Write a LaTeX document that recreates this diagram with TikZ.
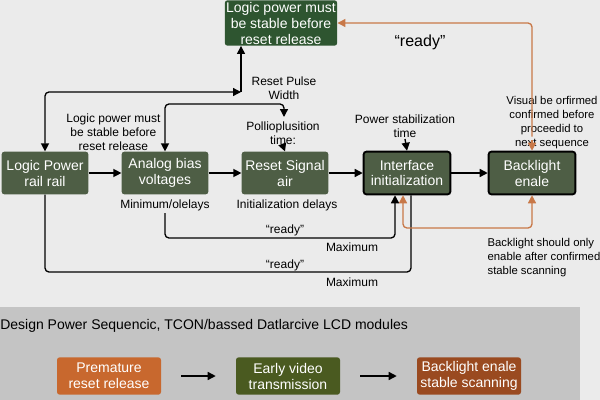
\documentclass[tikz,border=0pt]{standalone}
\usepackage{fontspec}
\setmainfont{Liberation Sans}
\usetikzlibrary{arrows.meta}
\definecolor{bg}{HTML}{EBEBEB}
\definecolor{boxg}{HTML}{4E5E45}
\definecolor{topg}{HTML}{2E5530}
\definecolor{orl}{HTML}{C87848}
\definecolor{panel}{HTML}{C4C4C4}
\definecolor{pre}{HTML}{C8682E}
\definecolor{early}{HTML}{4A5A20}
\definecolor{bre}{HTML}{9A4A20}
\begin{document}
\begin{tikzpicture}[x=0.75pt,y=-0.75pt,
  box/.style={fill=boxg,text=white,rounded corners=2pt,minimum width=65pt,minimum height=32pt,align=center,font=\fontsize{10.5}{12}\selectfont,inner sep=1pt},
  bbox/.style={box,draw=black,line width=1.4pt},
  lab/.style={align=center,font=\fontsize{9}{10.5}\selectfont,inner sep=1pt},
  ar/.style={line width=1pt,-{Triangle[length=6pt,width=6pt]}},
  ln/.style={line width=1pt,rounded corners=3pt},
  oar/.style={draw=orl,line width=1pt,rounded corners=3pt},
  bot/.style={text=white,rounded corners=2pt,minimum width=78pt,minimum height=28pt,align=center,font=\fontsize{10.5}{12}\selectfont,inner sep=1pt}]
\fill[bg] (0,0) rectangle (600,400);
\useasboundingbox (0,0) rectangle (600,400);
% nodes
\node[box,fill=topg,minimum width=77pt,minimum height=34pt] (top) at (281,23) {Logic power must\\be stable before\\reset release};
\node[box] (lp) at (45,173) {Logic Power\\rail  rail};
\node[box] (ab) at (165,173) {Analog bias\\voltages};
\node[box] (rs) at (285,173) {Reset Signal\\air};
\node[bbox] (ii) at (407,173) {Interface\\initialization};
\node[bbox] (be) at (532,173) {Backlight\\enale};
% labels
\node[lab,anchor=east] (l1) at (162,132) {Logic power must\\be stable before\\reset release};
\node[lab] (l2) at (284,88) {Reset Pulse\\Width};
\node[lab] (l3) at (283,133) {Pollioplusition\\time:};
\node[lab] (l4) at (405,126) {Power stabilization\\time};
\node[lab,font=\fontsize{8.5}{10.5}\selectfont] (l5) at (552,123) {Visual be orfirmed\\confirmed before\\proceedid to\\next sequence};
\node[font=\fontsize{12}{14}\selectfont] (rdy) at (420,42) {“ready”};
\node[lab] (m1) at (165,205) {Minimum/olelays};
\node[lab] (m2) at (287,205) {Initialization delays};
\node[lab] (r1) at (285,230) {“ready”};
\node[lab] (x1) at (352,247) {Maximum};
\node[lab] (r2) at (285,265) {“ready”};
\node[lab] (x2) at (352,282) {Maximum};
\node[lab,font=\fontsize{8.5}{10.5}\selectfont,align=left,anchor=north west] (bs) at (486,237) {Backlight should only\\enable after confirmed\\stable scanning};
% coordinates
\coordinate (c1) at (241,92);
\coordinate (c2) at (284,104);
\coordinate (c3) at (284,117);
\coordinate (c5) at (165,213);
\coordinate (c6) at (395,238);
\coordinate (c7) at (403,228);
\coordinate (c8) at (411,272);
% main arrows
\draw[ar] (lp) -- (ab);
\draw[ar] (ab) -- (rs);
\draw[ar] (rs) -- (ii);
\draw[ar] (ii) -- (be);
\draw[ar] (l4.south) -- (ii.north);
\draw[ar] (l3.south) -- (rs.north);
\draw[ln,{Triangle[length=6pt,width=6pt]}-{Triangle[length=6pt,width=6pt]}] (lp.north) |- (c1);
\draw[ar] (c1) -- (top.south -| c1);
\draw[ln,{Triangle[length=6pt,width=6pt]}-{Triangle[length=6pt,width=6pt]}] (ab.north) |- (c2) -- (c3);
\draw[ln,-{Triangle[length=6pt,width=6pt]}] (c5) |- (c6) -- (ii.south -| c6);
\draw[ln] (lp.south) |- (c8) -- (ii.south -| c8);
% orange
\draw[oar,-{Triangle[length=6pt,width=6pt]}] (be.north) ++(0,-14) |- (top.east);
\draw[draw=orl,line width=1pt,-{Triangle[length=6pt,width=6pt]}] (532,140) -- (be.north);
\draw[oar,{Triangle[length=6pt,width=6pt]}-{Triangle[length=6pt,width=6pt]}] (be.south) |- (c7) -- (ii.south -| c7);
% bottom panel
\fill[panel] (0,307) rectangle (580,400);
\node[anchor=west,font=\fontsize{10.5}{12}\selectfont,inner sep=0] (ttl) at (0,326) {Design Power Sequencic, TCON/bassed Datlarcive LCD modules};
\node[bot,fill=pre] (p1) at (109,376) {Premature\\reset release};
\node[bot,fill=early] (p2) at (288,376) {Early video\\transmission};
\node[bot,fill=bre] (p3) at (469,376) {Backlight enale\\stable scanning};
\draw[ar] ([xshift=15pt]p1.east) -- ([xshift=-15pt]p2.west);
\draw[ar] ([xshift=15pt]p2.east) -- ([xshift=-15pt]p3.west);
\end{tikzpicture}
\end{document}
